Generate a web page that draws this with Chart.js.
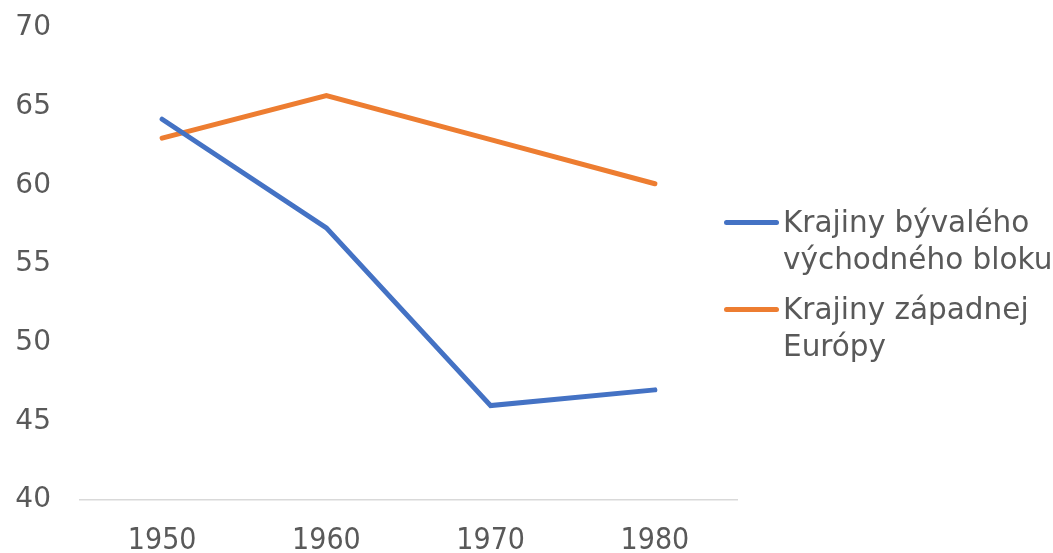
<!DOCTYPE html>
<html>
<head>
<meta charset="utf-8">
<script src="https://cdn.jsdelivr.net/npm/chart.js@4"></script>
<style>
  body { margin: 0; background: #fff; }
  #wrap { position: relative; width: 1053px; height: 553px; }
  #legend { position: absolute; left: 724px; top: 204px; font-family: 'DejaVu Sans', Verdana, sans-serif;
            font-size: 29.5px; line-height: 37px; color: #595959; }
  .item { display: flex; align-items: flex-start; margin-bottom: 13px; }
  .swatch { width: 55px; height: 5px; border-radius: 3px; margin-top: 16px; margin-right: 4px; flex: none; }
</style>
</head>
<body>
<div id="wrap">
  <canvas id="chart" width="1053" height="553"></canvas>
  <div id="legend"></div>
</div>
<script>
var years = ['1950', '1960', '1970', '1980'];
var eastBloc = [64.2, 57.3, 46.0, 47.0];
var westEurope = [63.0, 65.7, 62.9, 60.1];
var seriesNames = [['Krajiny bývalého', 'východného bloku'], ['Krajiny západnej', 'Európy']];
var colors = ['#4472C4', '#ED7D31'];

var ctx = document.getElementById('chart').getContext('2d');
var myChart = new Chart(ctx, {
    type: 'line',
    data: {
        labels: years,
        datasets: [{
            label: seriesNames[0].join(' '),
            data: eastBloc,
            borderColor: colors[0],
            backgroundColor: colors[0],
            borderWidth: 5,
            pointRadius: 0,
            borderCapStyle: 'round',
            tension: 0
        }, {
            label: seriesNames[1].join(' '),
            data: westEurope,
            borderColor: colors[1],
            backgroundColor: colors[1],
            borderWidth: 5,
            pointRadius: 0,
            borderCapStyle: 'round',
            tension: 0
        }]
    },
    options: {
        responsive: false,
        animation: false,
        layout: { padding: { top: 28, right: 316, left: 0, bottom: 0 } },
        plugins: { legend: { display: false }, tooltip: { enabled: false } },
        scales: {
            x: {
                offset: true,
                grid: { display: false, drawTicks: false },
                border: { display: true, color: '#d9d9d9', width: 1.5 },
                ticks: {
                    color: '#595959', padding: 23,
                    font: { family: "'DejaVu Sans Condensed', 'DejaVu Sans', sans-serif", size: 30 }
                },
                afterFit: function (s) { s.height = 53; s.paddingLeft = 0; s.paddingRight = 0; }
            },
            y: {
                min: 40, max: 70,
                grid: { display: false, drawTicks: false },
                border: { display: false },
                ticks: {
                    stepSize: 5, color: '#595959', padding: 29,
                    font: { family: "'DejaVu Sans', sans-serif", size: 28 }
                },
                afterFit: function (s) { s.width = 80; s.paddingTop = 0; s.paddingBottom = 0; }
            }
        }
    }
});

var legend = document.getElementById('legend');
seriesNames.forEach(function (lines, i) {
    var item = document.createElement('div');
    item.className = 'item';
    var sw = document.createElement('div');
    sw.className = 'swatch';
    sw.style.background = colors[i];
    var txt = document.createElement('div');
    txt.innerHTML = lines.join('<br>');
    item.appendChild(sw);
    item.appendChild(txt);
    legend.appendChild(item);
});
</script>
</body>
</html>
